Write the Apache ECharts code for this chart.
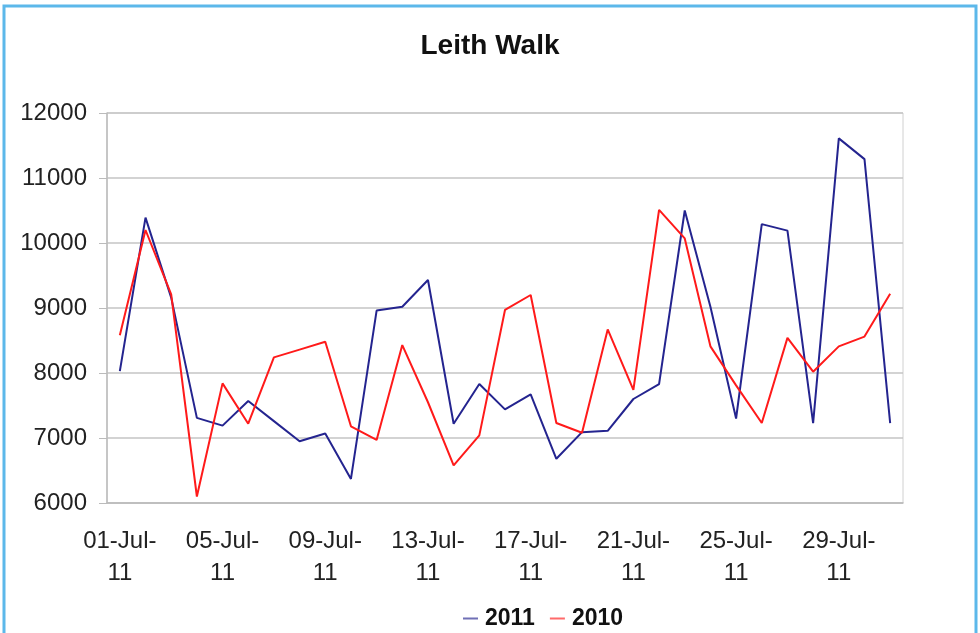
<!DOCTYPE html>
<html>
<head>
<meta charset="utf-8">
<script src="https://cdn.jsdelivr.net/npm/echarts@6/dist/echarts.min.js"></script>
<style>
  html, body { margin: 0; padding: 0; background: #fff; }
  #chart { width: 980px; height: 633px; }
</style>
</head>
<body>
<div id="chart"></div>
<script>
var days = [];
for (var d = 1; d <= 31; d++) {
    days.push((d < 10 ? "0" + d : "" + d) + "-Jul-11");
}

var walk2011 = [8030, 10390, 9160, 7310, 7190, 7570, 7260, 6950, 7070, 6370,
    8960, 9020, 9430, 7220, 7830, 7440, 7670, 6680, 7090, 7110,
    7600, 7830, 10500, 9020, 7300, 10290, 10190, 7230, 11610, 11290, 7230];

var walk2010 = [8580, 10200, 9210, 6100, 7840, 7220, 8240, 8360, 8480, 7180,
    6970, 8430, 7550, 6580, 7040, 8970, 9200, 7230, 7080, 8670,
    7740, 10510, 10070, 8410, 7810, 7230, 8540, 8020, 8410, 8560, 9220];

var textColor = "#222";
var fontFam = "Liberation Sans, Arial, sans-serif";

var chart = echarts.init(document.getElementById("chart"));

var option = {
    backgroundColor: "#fff",
    animation: false,
    graphic: [{
        type: "rect",
        shape: { x: 4, y: 6, width: 972, height: 640 },
        style: { fill: "none", stroke: "#5cb8ea", lineWidth: 3 },
        silent: true
    }],
    title: {
        text: "Leith Walk",
        left: "center",
        top: 27,
        textStyle: { fontFamily: fontFam, fontSize: 28, fontWeight: "bold", color: "#111" }
    },
    legend: {
        left: 458,
        top: 602,
        itemGap: 15,
        itemWidth: 15,
        itemHeight: 2,
        icon: "rect",
        itemStyle: { opacity: 0.65 },
        textStyle: { fontFamily: fontFam, fontSize: 23, fontWeight: "bold", color: "#111", padding: [0, 0, 0, 2] },
        data: ["2011", "2010"]
    },
    grid: {
        left: 107,
        right: 77,
        top: 113,
        bottom: 130,
        show: true,
        borderColor: "#d0d0d0",
        borderWidth: 1
    },
    xAxis: {
        type: "category",
        data: days,
        boundaryGap: true,
        axisLine: { lineStyle: { color: "#bbb", width: 1.5 } },
        axisTick: { interval: 3, length: 8, lineStyle: { color: "#bbb" } },
        axisLabel: {
            interval: 3,
            margin: 22,
            lineHeight: 32,
            fontFamily: fontFam,
            fontSize: 24,
            color: textColor,
            formatter: function (v) { return v.slice(0, 7) + "\n" + v.slice(7); }
        }
    },
    yAxis: {
        type: "value",
        min: 6000,
        max: 12000,
        interval: 1000,
        axisLine: { show: true, lineStyle: { color: "#bbb", width: 1.5 } },
        axisTick: { show: true, length: 8, lineStyle: { color: "#bbb" } },
        axisLabel: {
            margin: 20,
            fontFamily: fontFam,
            fontSize: 24,
            color: textColor,
            formatter: function (v) { return String(v); }
        },
        splitLine: { lineStyle: { color: "#c4c4c4", width: 1.5 } }
    },
    series: [
        {
            name: "2011",
            type: "line",
            data: walk2011,
            symbol: "none",
            lineStyle: { color: "#24248f", width: 2 },
            itemStyle: { color: "#24248f" }
        },
        {
            name: "2010",
            type: "line",
            data: walk2010,
            symbol: "none",
            lineStyle: { color: "#ff1a1a", width: 2 },
            itemStyle: { color: "#ff1a1a" }
        }
    ]
};

chart.setOption(option);
</script>
</body>
</html>
